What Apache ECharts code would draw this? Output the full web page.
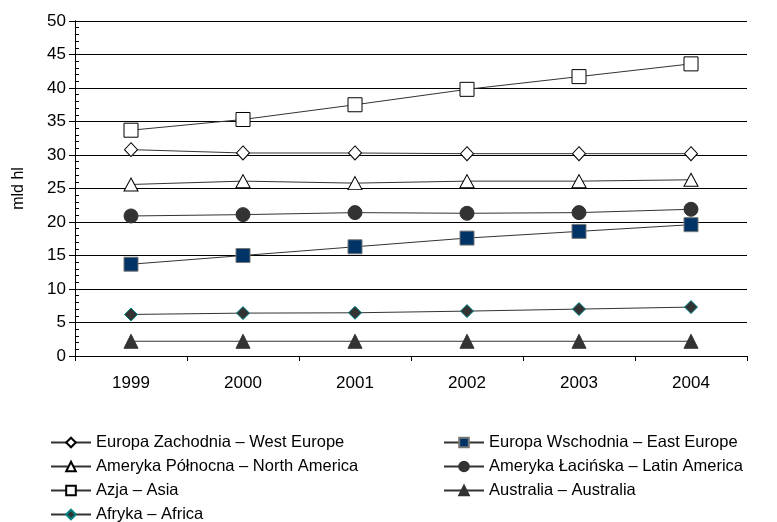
<!DOCTYPE html>
<html>
<head>
<meta charset="utf-8">
<script src="https://cdn.jsdelivr.net/npm/echarts@6/dist/echarts.min.js"></script>
<style>
  html, body { margin: 0; padding: 0; background: #fff; }
  #chart { width: 777px; height: 522px; }
</style>
</head>
<body>
<div id="chart"></div>
<script>
// Years on the category axis
const years = ['1999', '2000', '2001', '2002', '2003', '2004'];

// Production per region, billion hl
const westEurope    = [30.8, 30.3, 30.3, 30.2, 30.2, 30.2];
const eastEurope    = [13.7, 15.0, 16.3, 17.6, 18.6, 19.6];
const northAmerica  = [25.6, 26.1, 25.8, 26.1, 26.1, 26.3];
const latinAmerica  = [20.9, 21.1, 21.4, 21.3, 21.4, 21.9];
const asia          = [33.7, 35.3, 37.5, 39.8, 41.7, 43.6];
const australia     = [2.2, 2.2, 2.2, 2.2, 2.2, 2.2];
const africa        = [6.2, 6.4, 6.45, 6.7, 7.0, 7.3];

// Legend labels
const nameWE = 'Europa Zachodnia \u2013 West Europe';
const nameEE = 'Europa Wschodnia \u2013 East Europe';
const nameNA = 'Ameryka P\u00f3\u0142nocna \u2013 North America';
const nameLA = 'Ameryka \u0141aci\u0144ska \u2013 Latin America';
const nameAS = 'Azja \u2013 Asia';
const nameAU = 'Australia \u2013 Australia';
const nameAF = 'Afryka \u2013 Africa';

const FONT = '"Liberation Sans", Arial, sans-serif';
const lineColor = '#333';

// Both value axes share the same 0..50 range, so a series draws identically on either.
function series(name, data, symbol, size, fill, border, axisIndex) {
  return {
    name: name,
    type: 'line',
    yAxisIndex: axisIndex || 0,
    data: data,
    symbol: symbol,
    symbolSize: size,
    showAllSymbol: true,
    lineStyle: { color: lineColor, width: 1 },
    itemStyle: { color: fill, borderColor: border, borderWidth: 1 },
    emphasis: { disabled: true },
    animation: false
  };
}

const chart = echarts.init(document.getElementById('chart'));

const legendCommon = {
  orient: 'vertical',
  padding: 0,
  itemWidth: 40,
  itemHeight: 12,
  itemGap: 7,
  textStyle: { fontFamily: FONT, fontSize: 16.5, color: '#000', lineHeight: 16 },
  selectedMode: false
};

chart.setOption({
  backgroundColor: '#fff',
  animation: false,
  grid: { left: 75, right: 30, top: 21, bottom: 166, containLabel: false },
  legend: [
    Object.assign({ left: 50, top: 434, height: 130, data: [nameWE, nameNA, nameAS, nameAF] }, legendCommon),
    Object.assign({ left: 443, top: 434, height: 130, data: [nameEE, nameLA, nameAU] }, legendCommon)
  ],
  xAxis: {
    type: 'category',
    data: years,
    boundaryGap: true,
    axisLine: { lineStyle: { color: '#000', width: 1 } },
    axisTick: { show: true, length: 5, lineStyle: { color: '#000' } },
    axisLabel: { fontFamily: FONT, fontSize: 17, color: '#000', margin: 19 },
    splitLine: { show: false }
  },
  yAxis: [
    {
      type: 'value', min: 0, max: 50, interval: 5, position: 'left',
      name: 'mld hl',
      nameLocation: 'middle',
      nameRotate: 90,
      nameGap: 48,
      nameTextStyle: { fontFamily: FONT, fontSize: 16, color: '#000' },
      axisLine: { show: true, lineStyle: { color: '#000', width: 1 } },
      axisTick: { show: true, length: 6, lineStyle: { color: '#000' } },
      axisLabel: { fontFamily: FONT, fontSize: 17, color: '#000', margin: 9 },
      splitLine: { show: true, lineStyle: { color: '#000', width: 1 } }
    },
    // short inward ticks at every unit
    {
      type: 'value', min: 0, max: 50, interval: 1, position: 'left', offset: 0,
      axisLine: { show: true, onZero: false, lineStyle: { color: '#000', width: 1 } },
      axisTick: { show: true, inside: true, length: 4, lineStyle: { color: '#000', width: 1 } },
      axisLabel: { show: false },
      splitLine: { show: false }
    }
  ],
  series: [
    series(nameWE, westEurope, 'diamond', [13, 14], '#fff', '#000'),
    series(nameEE, eastEurope, 'rect', [14, 14], '#003366', '#777'),
    series(nameNA, northAmerica, 'triangle', [14, 13], '#fff', '#000'),
    series(nameLA, latinAmerica, 'circle', [14, 14], '#333', '#333'),
    series(nameAS, asia, 'rect', [14, 14], '#fff', '#000'),
    series(nameAU, australia, 'triangle', [14, 14], '#333', '#333', 1),
    series(nameAF, africa, 'diamond', [13, 13], '#333', '#008080')
  ]
});
</script>
</body>
</html>
